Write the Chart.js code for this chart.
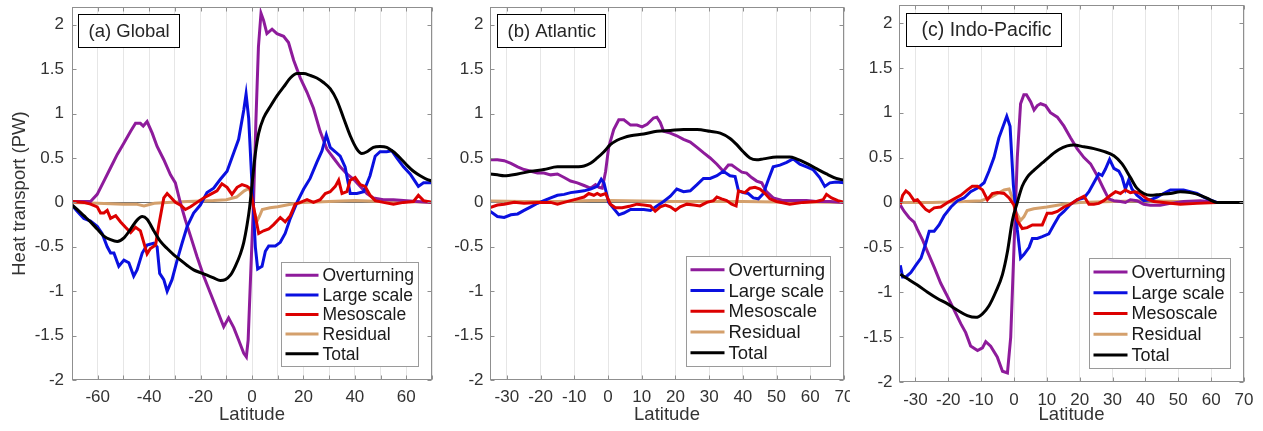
<!DOCTYPE html>
<html>
<head>
<meta charset="utf-8">
<script src="https://cdn.jsdelivr.net/npm/chart.js@4.4.1/dist/chart.umd.min.js"></script>
<style>
html, body { margin: 0; padding: 0; background: #fff; }
body { width: 1263px; height: 431px; position: relative; overflow: hidden; }
.panel { position: absolute; top: 0; height: 431px; }
</style>
</head>
<body>
<div class="panel" style="left:0;width:440px"><canvas id="global"></canvas></div>
<div class="panel" style="left:440px;width:410px"><canvas id="atlantic"></canvas></div>
<div class="panel" style="left:850px;width:413px"><canvas id="indopac"></canvas></div>
<script>
// series names and colours
const seriesNames = ['Overturning', 'Large scale', 'Mesoscale', 'Residual', 'Total'];
const seriesColors = ['#8e1b9b', '#0a10e0', '#dc0000', '#d4a06c', '#000000'];
const drawOrder = [4, 3, 2, 5, 1]; // higher = further back
const yTicks = [-2, -1.5, -1, -0.5, 0, 0.5, 1, 1.5, 2];

// (a) Global  [latitude, PW]
const globalOverturning = [[-70,0.01],[-65,0.01],[-62.8,0.01],[-60.2,0.09],[-57.6,0.24],[-55,0.39],[-52.4,0.54],[-49.8,0.67],[-47.2,0.80],[-45.3,0.89],[-43.4,0.89],[-42.3,0.86],[-40.8,0.91],[-38.8,0.78],[-36.9,0.63],[-34.3,0.48],[-31.7,0.31],[-29.8,0.22],[-27.8,-0.01],[-25.9,-0.20],[-23.9,-0.38],[-21.4,-0.61],[-18.8,-0.83],[-16.2,-1.02],[-13.6,-1.21],[-11,-1.40],[-9.1,-1.30],[-7.1,-1.41],[-5.2,-1.55],[-3.2,-1.70],[-2.2,-1.74],[-1.5,-1.55],[-0.5,-0.8],[0.6,0.0],[1.5,0.9],[2.5,1.75],[3.5,2.13],[4.5,2.05],[5.8,1.90],[7.8,1.95],[9.7,1.90],[12.3,1.87],[14.2,1.80],[16.2,1.60],[18.8,1.40],[21.4,1.24],[23.9,1.06],[26.5,0.80],[29.1,0.60],[31.7,0.50],[34.3,0.40],[36.9,0.32],[39.5,0.26],[42.1,0.18],[44.7,0.10],[47.2,0.05],[51.1,0.03],[55,0.03],[58.9,0.02],[64.1,0.01],[70,0.0]];
const globalLargeScale = [[-70,-0.03],[-68,-0.10],[-65.4,-0.18],[-62.8,-0.21],[-60.2,-0.27],[-58.3,-0.35],[-56.3,-0.50],[-55,-0.57],[-53.7,-0.57],[-51.8,-0.72],[-49.8,-0.65],[-47.9,-0.68],[-46,-0.83],[-44.7,-0.76],[-42.7,-0.57],[-40.8,-0.48],[-38.2,-0.46],[-36.9,-0.50],[-35.9,-0.80],[-34.3,-0.87],[-33,-1.00],[-31.1,-0.87],[-29.1,-0.65],[-27.2,-0.46],[-25.2,-0.27],[-22.7,-0.12],[-20.1,-0.03],[-17.5,0.11],[-14.9,0.16],[-12.3,0.26],[-9.7,0.35],[-7.1,0.56],[-5.2,0.71],[-3.2,1.04],[-2.3,1.22],[-1.3,0.95],[0,0.2],[0.6,-0.1],[1.3,-0.5],[2.2,-0.75],[3.9,-0.72],[5.2,-0.55],[6.5,-0.49],[9.1,-0.49],[11,-0.45],[12.9,-0.35],[14.9,-0.18],[17.5,0.0],[20.1,0.15],[22.6,0.27],[25.2,0.45],[27.2,0.58],[28.9,0.76],[30.4,0.62],[32.4,0.57],[34.3,0.52],[36.2,0.40],[38.2,0.10],[40.8,0.10],[43.4,0.12],[45.9,0.30],[47.9,0.52],[49.8,0.57],[52.4,0.57],[54.4,0.58],[56.3,0.50],[58.9,0.40],[61.5,0.32],[64.7,0.18],[66.7,0.22],[70,0.22]];
const globalMesoscale = [[-70,0.01],[-65.4,0.0],[-62.8,-0.02],[-60.2,-0.05],[-58.9,-0.12],[-57.6,-0.12],[-56.3,-0.09],[-55,-0.18],[-53,-0.15],[-51.1,-0.22],[-49.2,-0.28],[-47.2,-0.34],[-45.3,-0.28],[-43.4,-0.32],[-42.1,-0.45],[-40.8,-0.58],[-39.5,-0.52],[-37.5,-0.48],[-36.2,-0.25],[-34.3,0.05],[-33,0.10],[-31.7,0.06],[-29.8,0.0],[-27.8,-0.03],[-25.9,-0.08],[-23.9,-0.05],[-21.4,0.0],[-18.8,0.05],[-16.2,0.09],[-13.6,0.13],[-11.7,0.21],[-9.7,0.17],[-7.8,0.09],[-5.8,0.17],[-3.9,0.20],[-1.9,0.18],[-0.6,0.15],[0.6,-0.05],[2.6,-0.35],[4.5,-0.32],[6.5,-0.30],[8.4,-0.25],[11,-0.17],[12.9,-0.22],[14.9,-0.15],[16.8,-0.02],[18.8,0.0],[21.4,0.03],[23.9,0.0],[26.5,0.03],[28.5,0.10],[30.4,0.12],[32.4,0.18],[33.7,0.25],[35,0.10],[36.9,0.12],[38.2,0.25],[40.1,0.28],[42.1,0.20],[44,0.18],[45.9,0.08],[47.9,0.02],[51.1,0.0],[55,-0.02],[58.9,0.0],[62.8,0.01],[64.7,0.08],[66.7,0.02],[70,0.0]];
const globalResidual = [[-70,0.0],[-60,-0.01],[-50,-0.02],[-45,-0.02],[-42,-0.04],[-38,-0.01],[-33,0.0],[-25,0.01],[-15,0.02],[-10,0.03],[-6,0.06],[-3,0.13],[-1,0.16],[0,0.05],[1,-0.12],[2,-0.21],[3,-0.15],[4,-0.08],[7,-0.06],[10,-0.05],[15,-0.02],[20,0.0],[30,0.01],[40,0.02],[50,0.01],[60,0.01],[70,0.0]];
const globalTotal = [[-70,-0.03],[-68,-0.08],[-65.4,-0.15],[-62.8,-0.22],[-60.2,-0.30],[-57.6,-0.38],[-55,-0.42],[-52.4,-0.44],[-49.8,-0.40],[-47.2,-0.30],[-44.7,-0.20],[-42.7,-0.16],[-40.8,-0.19],[-38.2,-0.32],[-35.6,-0.44],[-33,-0.52],[-30.4,-0.59],[-27.8,-0.65],[-25.2,-0.71],[-22.7,-0.76],[-20.1,-0.79],[-17.5,-0.82],[-14.9,-0.85],[-12.3,-0.88],[-10.4,-0.87],[-8.4,-0.82],[-6.5,-0.72],[-4.5,-0.58],[-3.2,-0.45],[-1.9,-0.25],[-0.9,-0.05],[0,0.2],[1.3,0.55],[2.6,0.78],[4.5,0.95],[7.1,1.08],[9.7,1.20],[12.3,1.30],[14.9,1.40],[17.5,1.45],[20.1,1.45],[22.6,1.43],[25.2,1.40],[27.8,1.35],[30.4,1.28],[33,1.15],[35.6,0.95],[38.2,0.75],[40.8,0.60],[42.7,0.55],[44.7,0.57],[47.2,0.62],[49.8,0.63],[52.4,0.62],[55,0.57],[57.6,0.50],[60.2,0.42],[62.8,0.35],[65.4,0.30],[68,0.26],[70,0.24]];

// (b) Atlantic
const atlOverturning = [[-35,0.48],[-32.8,0.48],[-30.8,0.47],[-28.8,0.44],[-26.8,0.40],[-24.9,0.37],[-22.9,0.35],[-20.9,0.33],[-19,0.33],[-17,0.31],[-15,0.32],[-13,0.28],[-11.1,0.24],[-9.1,0.22],[-7.1,0.19],[-5.2,0.16],[-3.7,0.20],[-2.7,0.17],[-1.7,0.16],[-0.7,0.35],[0.2,0.62],[1.7,0.82],[3.2,0.93],[4.7,0.93],[6.7,0.87],[8.6,0.87],[10.1,0.85],[11.6,0.88],[13.5,0.95],[14.5,0.96],[15.5,0.90],[16.5,0.80],[18.5,0.78],[20.4,0.75],[22.4,0.71],[24.4,0.68],[26.4,0.62],[28.3,0.56],[30.3,0.50],[32.3,0.43],[34.2,0.35],[35.7,0.42],[36.7,0.42],[38.2,0.38],[39.7,0.34],[41.1,0.33],[42.6,0.28],[44.1,0.24],[45.6,0.22],[47,0.12],[49,0.05],[52,0.02],[55.9,0.02],[58.9,0.02],[61.8,0.01],[65.8,0.01],[70,0.0]];
const atlLargeScale = [[-35,-0.10],[-32.8,-0.16],[-30.8,-0.17],[-28.8,-0.14],[-26.8,-0.13],[-24.9,-0.09],[-22.9,-0.05],[-20.9,-0.01],[-19,0.02],[-17,0.05],[-15,0.08],[-13,0.09],[-11.1,0.11],[-9.1,0.12],[-7.1,0.13],[-5.2,0.15],[-3.2,0.18],[-2,0.26],[-1.2,0.22],[0.2,0.0],[1.7,-0.07],[3.2,-0.14],[4.7,-0.12],[6.7,-0.08],[8.6,-0.08],[10.6,-0.08],[12.6,-0.09],[14.5,-0.04],[16.5,0.01],[18.5,0.07],[20.4,0.15],[22.4,0.12],[24.4,0.13],[26.4,0.20],[28.3,0.27],[30.3,0.27],[32.3,0.30],[34.2,0.35],[36.2,0.30],[37.7,0.29],[38.7,0.13],[40.1,0.11],[41.6,0.10],[43.1,0.05],[44.6,0.04],[46.1,0.10],[47.5,0.25],[49,0.40],[51,0.42],[53,0.45],[54.9,0.49],[56.9,0.43],[58.9,0.40],[60.8,0.37],[62.8,0.28],[64.3,0.18],[65.8,0.22],[67.7,0.23],[70,0.22]];
const atlMesoscale = [[-35,-0.06],[-32.8,-0.03],[-30.8,-0.02],[-27.8,0.0],[-24.9,-0.01],[-20.9,0.0],[-17,0.0],[-15,-0.02],[-13,0.0],[-11.1,0.02],[-9.1,0.04],[-7.1,0.06],[-5.7,0.10],[-4.2,0.08],[-3.2,0.10],[-2.2,0.08],[-0.7,0.10],[0.7,-0.02],[2.2,-0.06],[4.2,-0.06],[6.7,-0.04],[8.6,-0.02],[10.6,-0.03],[12.6,-0.04],[14,-0.10],[15.5,-0.05],[17,-0.03],[18.5,-0.05],[20,-0.09],[21.4,-0.05],[23.4,-0.02],[25.4,-0.03],[27.3,-0.04],[29.3,0.0],[31.3,0.02],[32.3,0.06],[33.7,0.04],[35.2,0.02],[36.7,-0.02],[38,-0.04],[38.7,0.13],[40.6,0.11],[42.1,0.16],[43.6,0.17],[45.1,0.15],[46.6,0.10],[48,0.04],[50,0.01],[53.9,-0.02],[57.9,0.0],[61.8,0.01],[63.8,0.03],[64.8,0.09],[66.3,0.05],[68.2,0.02],[70,0.0]];
const atlResidual = [[-35,0.015],[-25,0.01],[-15,0.01],[-5,0.02],[0,0.02],[10,0.015],[20,0.01],[30,0.01],[40,0.01],[50,0.005],[60,0.005],[70,0.0]];
const atlTotal = [[-35,0.32],[-32.8,0.31],[-30.8,0.30],[-26.8,0.32],[-22.9,0.35],[-19,0.37],[-15,0.40],[-11.1,0.40],[-7.1,0.41],[-5.2,0.44],[-3.2,0.50],[-1.2,0.57],[0.7,0.65],[2.7,0.70],[4.7,0.73],[6.7,0.75],[10.6,0.77],[14.5,0.80],[18.5,0.81],[22.4,0.82],[26.4,0.82],[30.3,0.80],[33.3,0.78],[36.2,0.72],[38.2,0.65],[40.1,0.57],[42.1,0.50],[44.1,0.48],[46.1,0.49],[50,0.51],[53.9,0.51],[55.9,0.49],[58.9,0.44],[61.8,0.38],[64.8,0.32],[67.7,0.27],[70,0.25]];

// (c) Indo-Pacific
const ipOverturning = [[-34.6,-0.03],[-33.4,-0.10],[-31.9,-0.17],[-30.4,-0.22],[-29.4,-0.30],[-27.8,-0.42],[-26.3,-0.55],[-24.3,-0.72],[-22.3,-0.90],[-20.2,-1.05],[-18.2,-1.20],[-16.2,-1.35],[-14.7,-1.45],[-13.2,-1.60],[-11.1,-1.65],[-9.6,-1.62],[-8.6,-1.55],[-7.1,-1.60],[-5.1,-1.72],[-3.5,-1.88],[-2,-1.90],[-1,-1.5],[0,-0.5],[1,0.5],[2,1.10],[3,1.20],[3.8,1.20],[5.1,1.12],[6.1,1.03],[7.1,1.08],[8.1,1.10],[9.6,1.08],[11.1,1.00],[13.2,0.95],[15.2,0.85],[17.2,0.72],[19.2,0.60],[21.3,0.50],[23.3,0.43],[25.3,0.30],[27.3,0.15],[28.8,0.04],[30.4,0.02],[32.4,0.01],[33.9,0.0],[35.4,0.03],[37.4,0.02],[39.5,-0.02],[41.5,-0.03],[44.5,-0.03],[47.6,-0.01],[51.6,0.01],[56.7,0.02],[61.7,0.0],[70,0.0]];
const ipLargeScale = [[-34.6,-0.70],[-33.9,-0.83],[-32.9,-0.83],[-31.4,-0.78],[-29.9,-0.70],[-28.3,-0.62],[-26.8,-0.45],[-25.8,-0.32],[-24.3,-0.32],[-22.8,-0.25],[-21.3,-0.15],[-19.2,-0.05],[-17.2,0.02],[-15.2,0.05],[-13.2,0.12],[-11.1,0.16],[-9.1,0.22],[-7.6,0.35],[-6.1,0.50],[-4.6,0.72],[-3,0.88],[-2.2,0.96],[-1.2,0.85],[-0.2,0.2],[1,-0.3],[2,-0.62],[3,-0.58],[4.6,-0.50],[5.6,-0.40],[7.1,-0.40],[8.6,-0.38],[10.6,-0.35],[12.1,-0.25],[13.7,-0.15],[15.2,-0.10],[17.2,-0.02],[19.2,0.03],[21.3,0.05],[22.8,0.12],[24.3,0.22],[25.8,0.32],[26.8,0.30],[27.8,0.37],[29.1,0.48],[30.4,0.38],[31.9,0.35],[32.9,0.28],[33.9,0.15],[34.9,0.25],[35.9,0.15],[37.4,0.08],[39.5,0.02],[41.5,0.03],[43.5,0.06],[45.5,0.10],[47.6,0.14],[49.6,0.14],[51.6,0.14],[53.6,0.12],[55.7,0.10],[57.7,0.06],[59.7,0.03],[61.7,0.0],[70,0.0]];
const ipMesoscale = [[-34.6,-0.02],[-33.9,0.08],[-32.9,0.13],[-31.9,0.10],[-30.4,0.02],[-29.4,0.03],[-27.8,-0.04],[-26.8,-0.08],[-25.8,-0.10],[-24.3,-0.06],[-22.3,-0.05],[-20.2,0.0],[-18.2,0.04],[-16.2,0.08],[-14.2,0.14],[-12.7,0.18],[-11.1,0.18],[-9.6,0.14],[-8.1,0.03],[-6.6,0.10],[-5.1,0.11],[-3,0.10],[-1.5,0.05],[0,-0.03],[1,-0.20],[2.5,-0.29],[4,-0.28],[5.6,-0.25],[7.1,-0.25],[8.6,-0.25],[10.1,-0.12],[11.6,-0.12],[13.2,-0.10],[15.2,-0.05],[17.2,-0.02],[19.2,0.03],[21.3,0.07],[22.8,-0.02],[24.3,-0.02],[25.8,-0.01],[27.3,0.02],[29.4,0.08],[30.9,0.12],[32.4,0.10],[33.9,0.14],[35.4,0.11],[36.9,0.12],[38.5,0.10],[40.5,0.04],[42.5,0.01],[45.5,0.0],[50.6,-0.02],[55.7,-0.01],[61.7,0.0],[70,0.0]];
const ipResidual = [[-35,0.0],[-25,0.0],[-15,0.01],[-10,0.02],[-7,0.06],[-5,0.10],[-3,0.14],[-1.5,0.15],[-0.5,0.05],[0.5,-0.10],[2,-0.20],[3,-0.16],[4,-0.09],[6,-0.07],[10,-0.05],[15,-0.02],[20,0.0],[30,0.01],[40,0.02],[50,0.01],[60,0.0],[70,0.0]];
const ipTotal = [[-34.6,-0.80],[-32.4,-0.85],[-29.4,-0.92],[-26.3,-1.00],[-23.3,-1.07],[-20.2,-1.13],[-17.2,-1.20],[-14.2,-1.26],[-11.6,-1.28],[-9.6,-1.24],[-7.6,-1.15],[-5.6,-1.00],[-3.5,-0.80],[-2,-0.55],[-0.5,-0.20],[1,0.0],[2.5,0.18],[4,0.28],[6.1,0.36],[8.6,0.44],[11.1,0.52],[13.7,0.59],[16.2,0.63],[18.2,0.64],[21.3,0.62],[24.3,0.60],[27.3,0.57],[30.4,0.52],[32.9,0.43],[35.4,0.28],[37.4,0.16],[39.5,0.10],[41.5,0.08],[44.5,0.09],[47.6,0.10],[50.6,0.12],[53.6,0.11],[56.7,0.08],[59.7,0.03],[61.7,0.0],[70,0.0]];

Chart.defaults.font.family = '"Liberation Sans", Arial, Helvetica, sans-serif';
Chart.defaults.color = '#333';

// box, inward ticks, title box and legend drawn over the plot
const framePlugin = {
  id: 'frame',
  afterDatasetsDraw(chart, args, o) {
    const {ctx, chartArea: a, scales: {x, y}} = chart;
    const L = Math.round(a.left) + 0.5, R = Math.round(a.right) - 0.5;
    const T = Math.round(a.top) + 0.5, B = Math.round(a.bottom) - 0.5;
    ctx.save();
    ctx.strokeStyle = '#8f8f8f';
    ctx.lineWidth = 1;
    ctx.beginPath();
    x.ticks.forEach(t => {
      const px = Math.round(x.getPixelForValue(t.value)) + 0.5;
      ctx.moveTo(px, B); ctx.lineTo(px, B - 4);
      ctx.moveTo(px, T); ctx.lineTo(px, T + 4);
    });
    y.ticks.forEach(t => {
      const py = Math.round(y.getPixelForValue(t.value)) + 0.5;
      ctx.moveTo(L, py); ctx.lineTo(L + 4, py);
      ctx.moveTo(R, py); ctx.lineTo(R - 4, py);
    });
    ctx.stroke();
    ctx.strokeRect(L, T, R - L, B - T);

    // panel title box
    ctx.font = o.titleSize + 'px "Liberation Sans", Arial, sans-serif';
    const tw = ctx.measureText(o.title).width;
    const bx = Math.round(a.left + o.titleDx) + 0.5, by = Math.round(a.top + o.titleDy) + 0.5;
    const bw = Math.round(tw + o.titlePadL + o.titlePadR), bh = 33;
    ctx.fillStyle = '#fff';
    ctx.fillRect(bx, by, bw, bh);
    ctx.strokeStyle = '#000';
    ctx.strokeRect(bx, by, bw, bh);
    ctx.fillStyle = '#262626';
    ctx.textBaseline = 'middle';
    ctx.textAlign = 'left';
    ctx.fillText(o.title, bx + o.titlePadL, by + bh / 2 + 1);

    // legend box
    ctx.font = o.legendSize + 'px "Liberation Sans", Arial, sans-serif';
    const sets = chart.data.datasets;
    const maxW = Math.max(...sets.map(d => ctx.measureText(d.label).width));
    const lw = Math.round(4 + o.sample + 4 + maxW + 5);
    const lh = Math.round(sets.length * o.rowH + 6);
    const lx = Math.round(R - 14 - lw) + 0.5, ly = Math.round(B - 14 - lh) + 0.5;
    ctx.fillStyle = '#fff';
    ctx.fillRect(lx, ly, lw, lh);
    ctx.strokeStyle = '#9a9a9a';
    ctx.strokeRect(lx, ly, lw, lh);
    sets.forEach((d, i) => {
      const cy = ly + 3 + o.rowH * (i + 0.5);
      ctx.strokeStyle = d.borderColor;
      ctx.lineWidth = 3;
      ctx.beginPath();
      ctx.moveTo(lx + 4, cy); ctx.lineTo(lx + 4 + o.sample, cy);
      ctx.stroke();
      ctx.fillStyle = '#1a1a1a';
      ctx.fillText(d.label, lx + 8 + o.sample, cy + 1);
    });
    ctx.restore();
  }
};

function makePanel(id, series, cfg) {
  const datasets = series.map((pts, i) => ({
    label: seriesNames[i],
    data: pts.map(p => ({x: p[0], y: p[1]})),
    borderColor: seriesColors[i],
    borderWidth: 3,
    pointRadius: 0,
    tension: 0,
    cubicInterpolationMode: i === 4 ? 'monotone' : 'default',
    order: drawOrder[i]
  }));
  return new Chart(document.getElementById(id), {
    type: 'line',
    data: {datasets},
    plugins: [framePlugin],
    options: {
      responsive: true,
      maintainAspectRatio: false,
      animation: false,
      layout: {padding: {left: 0, top: cfg.padTop, right: cfg.padRight, bottom: 0}},
      plugins: {
        legend: {display: false},
        tooltip: {enabled: false},
        frame: cfg.frame
      },
      scales: {
        x: {
          type: 'linear',
          min: cfg.xMin, max: cfg.xMax,
          afterFit: s => { s.height = cfg.xHeight; s.paddingLeft = 0; s.paddingRight = 0; },
          border: {display: false},
          grid: {color: '#e6e6e6', drawTicks: false},
          ticks: {
            stepSize: 10, autoSkip: false, maxRotation: 0, includeBounds: false,
            padding: cfg.xPad, color: '#333', font: {size: 17},
            callback: v => (v % cfg.labelStep === 0 ? String(v) : '')
          },
          title: {display: true, text: 'Latitude', color: '#333', font: {size: 18.5}, padding: {top: 5, bottom: 5}}
        },
        y: {
          min: -2, max: 2.2,
          afterFit: s => { s.width = cfg.yWidth; s.paddingTop = 0; s.paddingBottom = 0; },
          afterBuildTicks: s => { s.ticks = yTicks.map(v => ({value: v})); },
          border: {display: false},
          grid: {
            drawTicks: false,
            color: c => (c.tick && c.tick.value === 0 ? '#6e6e6e' : 'rgba(0,0,0,0)')
          },
          ticks: {padding: cfg.yPad, color: '#333', font: {size: 17}, callback: v => String(v)},
          title: {display: cfg.yTitle, text: 'Heat transport (PW)', color: '#333', font: {size: 18.5}, padding: {top: 9, bottom: 0}}
        }
      }
    }
  });
}

makePanel('global', [globalOverturning, globalLargeScale, globalMesoscale, globalResidual, globalTotal], {
  xMin: -70, xMax: 70, labelStep: 20, padTop: 7, padRight: 8, xHeight: 51, yWidth: 72,
  xPad: 7, yPad: 8, yTitle: true,
  frame: {title: '(a) Global', titleSize: 18.5, titleDx: 6, titleDy: 7, titlePadL: 10, titlePadR: 10,
          legendSize: 17.5, sample: 33, rowH: 19.6}
});
makePanel('atlantic', [atlOverturning, atlLargeScale, atlMesoscale, atlResidual, atlTotal], {
  xMin: -35, xMax: 70, labelStep: 10, padTop: 7, padRight: 6, xHeight: 51, yWidth: 50,
  xPad: 7, yPad: 6.5, yTitle: false,
  frame: {title: '(b) Atlantic', titleSize: 18.5, titleDx: 6.5, titleDy: 7, titlePadL: 10, titlePadR: 10,
          legendSize: 18.5, sample: 34, rowH: 20.7}
});
makePanel('indopac', [ipOverturning, ipLargeScale, ipMesoscale, ipResidual, ipTotal], {
  xMin: -35, xMax: 70, labelStep: 10, padTop: 5, padRight: 19, xHeight: 49, yWidth: 49,
  xPad: 8, yPad: 6.5, yTitle: false,
  frame: {title: '(c) Indo-Pacific', titleSize: 19.5, titleDx: 6.5, titleDy: 8, titlePadL: 15, titlePadR: 10,
          legendSize: 18, sample: 34, rowH: 20.8}
});
</script>
</body>
</html>
